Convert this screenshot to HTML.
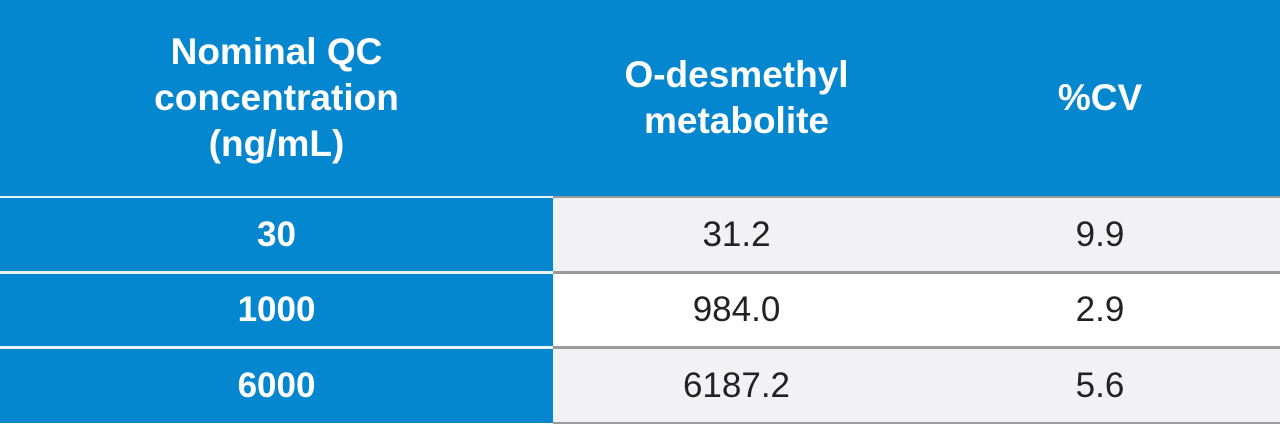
<!DOCTYPE html>
<html><head><style>
body{margin:0;width:1280px;height:430px;background:#fff;font-family:"Liberation Sans",sans-serif;position:relative;overflow:hidden}
div{position:absolute;box-sizing:border-box}
.c{display:flex;align-items:center;justify-content:center;text-align:center}
.h{color:#fff;font-weight:bold;font-size:37px;line-height:46px}
.k{color:#fff;font-weight:bold;font-size:35px}
.v{color:#222;font-size:35px}
</style></head><body>
<div style="left:0;top:0;width:1280px;height:196px;background:#0587cf"></div>
<div class="c h" style="left:0;top:0;width:553px;height:196px">Nominal QC<br>concentration<br>(ng/mL)</div>
<div class="c h" style="left:553px;top:0;width:367px;height:196px">O-desmethyl<br>metabolite</div>
<div class="c h" style="left:920px;top:0;width:360px;height:196px">%CV</div>

<div style="left:0;top:196px;width:1280px;height:2px;background:#9a9a9a"></div>
<div style="left:0;top:196px;width:553px;height:2px;background:#e8f4fb"></div>

<div style="left:0;top:198px;width:1280px;height:74px;background:#f2f2f4"></div>
<div style="left:553px;top:271px;width:727px;height:3px;background:#9a9a9a"></div>
<div style="left:0;top:274px;width:1280px;height:73px;background:#fff"></div>
<div style="left:553px;top:346px;width:727px;height:3px;background:#9a9a9a"></div>
<div style="left:0;top:349px;width:1280px;height:73px;background:#f2f2f4"></div>
<div style="left:553px;top:422px;width:727px;height:2px;background:#9a9a9a"></div>

<div style="left:0;top:198px;width:553px;height:225px;background:#0587cf"></div>
<div style="left:0;top:271px;width:553px;height:3px;background:#e8f4fb"></div>
<div style="left:0;top:346px;width:553px;height:3px;background:#e8f4fb"></div>

<div class="c k" style="left:0;top:198px;width:553px;height:73px">30</div>
<div class="c v" style="left:553px;top:198px;width:367px;height:73px">31.2</div>
<div class="c v" style="left:920px;top:198px;width:360px;height:73px">9.9</div>

<div class="c k" style="left:0;top:274px;width:553px;height:72px">1000</div>
<div class="c v" style="left:553px;top:274px;width:367px;height:72px">984.0</div>
<div class="c v" style="left:920px;top:274px;width:360px;height:72px">2.9</div>

<div class="c k" style="left:0;top:349px;width:553px;height:73px">6000</div>
<div class="c v" style="left:553px;top:349px;width:367px;height:73px">6187.2</div>
<div class="c v" style="left:920px;top:349px;width:360px;height:73px">5.6</div>
</body></html>
